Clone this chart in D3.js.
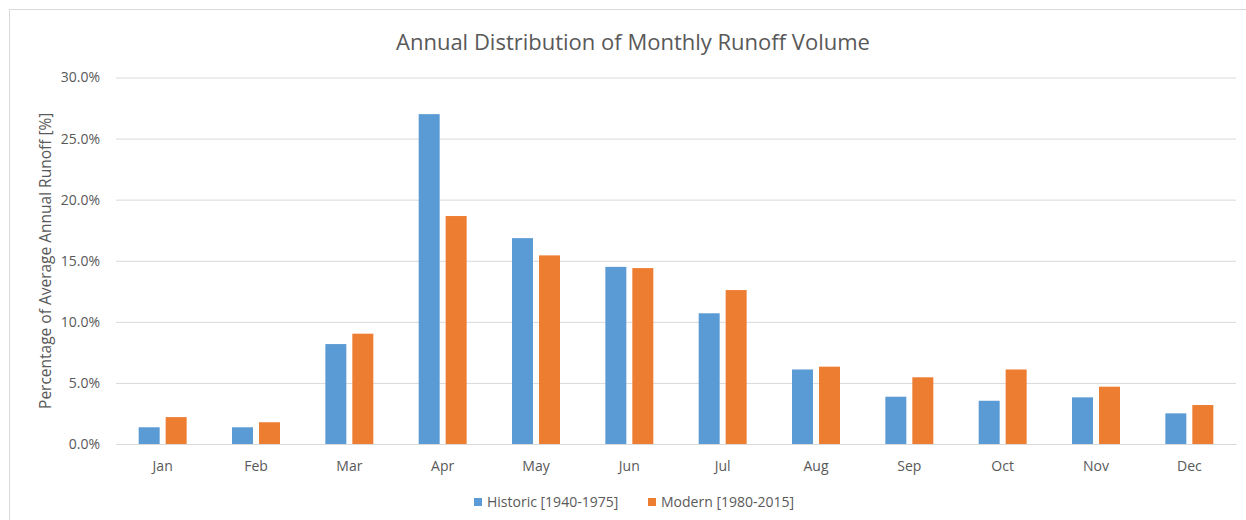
<!DOCTYPE html>
<html>
<head>
<meta charset="utf-8">
<script src="https://cdn.jsdelivr.net/npm/d3@7"></script>
<style>
  body { margin: 0; background: #fff; }
  text { font-family: "Open Sans", "Liberation Sans", sans-serif; fill: #595959; }
</style>
</head>
<body>
<div id="chart"></div>
<script>
const months = ["Jan", "Feb", "Mar", "Apr", "May", "Jun", "Jul", "Aug", "Sep", "Oct", "Nov", "Dec"]
const historic = [1.37, 1.37, 8.18, 27.0, 16.85, 14.5, 10.7, 6.1, 3.87, 3.54, 3.82, 2.51]
const modern = [2.2, 1.78, 9.03, 18.66, 15.44, 14.4, 12.6, 6.33, 5.46, 6.1, 4.69, 3.19]
const seriesNames = ["Historic [1940-1975]", "Modern [1980-2015]"]
const yTicks = [0, 5, 10, 15, 20, 25, 30]

const width = 1246
const height = 520
const colors = ["#5B9BD5", "#ED7D31"]

const svg = d3.select('#chart').append('svg')
    .attr('width', width)
    .attr('height', height)

// chart border (runs off the right / bottom edge like the screenshot)
svg.append('rect')
    .attr('x', 9.5).attr('y', 9.5)
    .attr('width', 1260).attr('height', 530)
    .style('fill', 'none')
    .style('stroke', '#d9d9d9')

const plotLeft = 116, plotRight = 1236, plotTop = 77.5, plotBottom = 444

const xScale = d3.scaleBand()
    .domain(months)
    .range([plotLeft, plotRight])
    .paddingInner(0.486)
    .paddingOuter(0.243)

const xSub = d3.scaleBand()
    .domain([0, 1])
    .range([0, xScale.bandwidth()])
    .paddingInner(0.222)

const yScale = d3.scaleLinear()
    .domain([0, 30])
    .range([plotBottom, plotTop])

/*
 * gridlines + y labels
 */
const yAxis = d3.axisLeft(yScale)
    .tickValues(yTicks)
    .tickSize(-(plotRight - plotLeft))
    .tickPadding(16)
    .tickFormat(d => d.toFixed(1) + '%')

const gy = svg.append('g')
    .attr('class', 'y axis')
    .attr('transform', `translate(${plotLeft},0)`)
    .call(yAxis)
gy.select('.domain').remove()
gy.selectAll('line').style('stroke', '#d9d9d9')
gy.selectAll('text').style('font-size', '14px').style('fill', '#595959')

/*
 * x axis
 */
const xAxis = d3.axisBottom(xScale)
    .tickSize(0)
    .tickPadding(17)

const gx = svg.append('g')
    .attr('class', 'x axis')
    .attr('transform', `translate(0,${plotBottom})`)
    .call(xAxis)
gx.select('.domain').style('stroke', '#d9d9d9')
gx.selectAll('text').style('font-size', '14px').style('fill', '#595959')

/*
 * bars
 */
const data = [historic, modern]
data.forEach(function(vals, s) {
    svg.append('g')
        .selectAll('rect')
        .data(vals)
        .join('rect')
        .attr('x', (d, i) => xScale(months[i]) + xSub(s))
        .attr('width', xSub.bandwidth())
        .attr('y', d => yScale(d))
        .attr('height', d => yScale(0) - yScale(d))
        .style('fill', colors[s])
})

// title
svg.append('text')
    .attr('x', 633)
    .attr('y', 50)
    .attr('text-anchor', 'middle')
    .style('font-size', '22px')
    .text('Annual Distribution of Monthly Runoff Volume')

// y title
svg.append('text')
    .attr('transform', `translate(51,${(plotTop + plotBottom) / 2}) rotate(-90)`)
    .attr('text-anchor', 'middle')
    .style('font-size', '15.5px')
    .text('Percentage of Average Annual Runoff [%]')

/*
 * legend
 */
const legendX = [474, 648]
seriesNames.forEach(function(name, s) {
    svg.append('rect')
        .attr('x', legendX[s]).attr('y', 498)
        .attr('width', 8).attr('height', 8)
        .style('fill', colors[s])
    svg.append('text')
        .attr('x', legendX[s] + 13)
        .attr('y', 507)
        .style('font-size', '14px')
        .text(name)
})
</script>
</body>
</html>
